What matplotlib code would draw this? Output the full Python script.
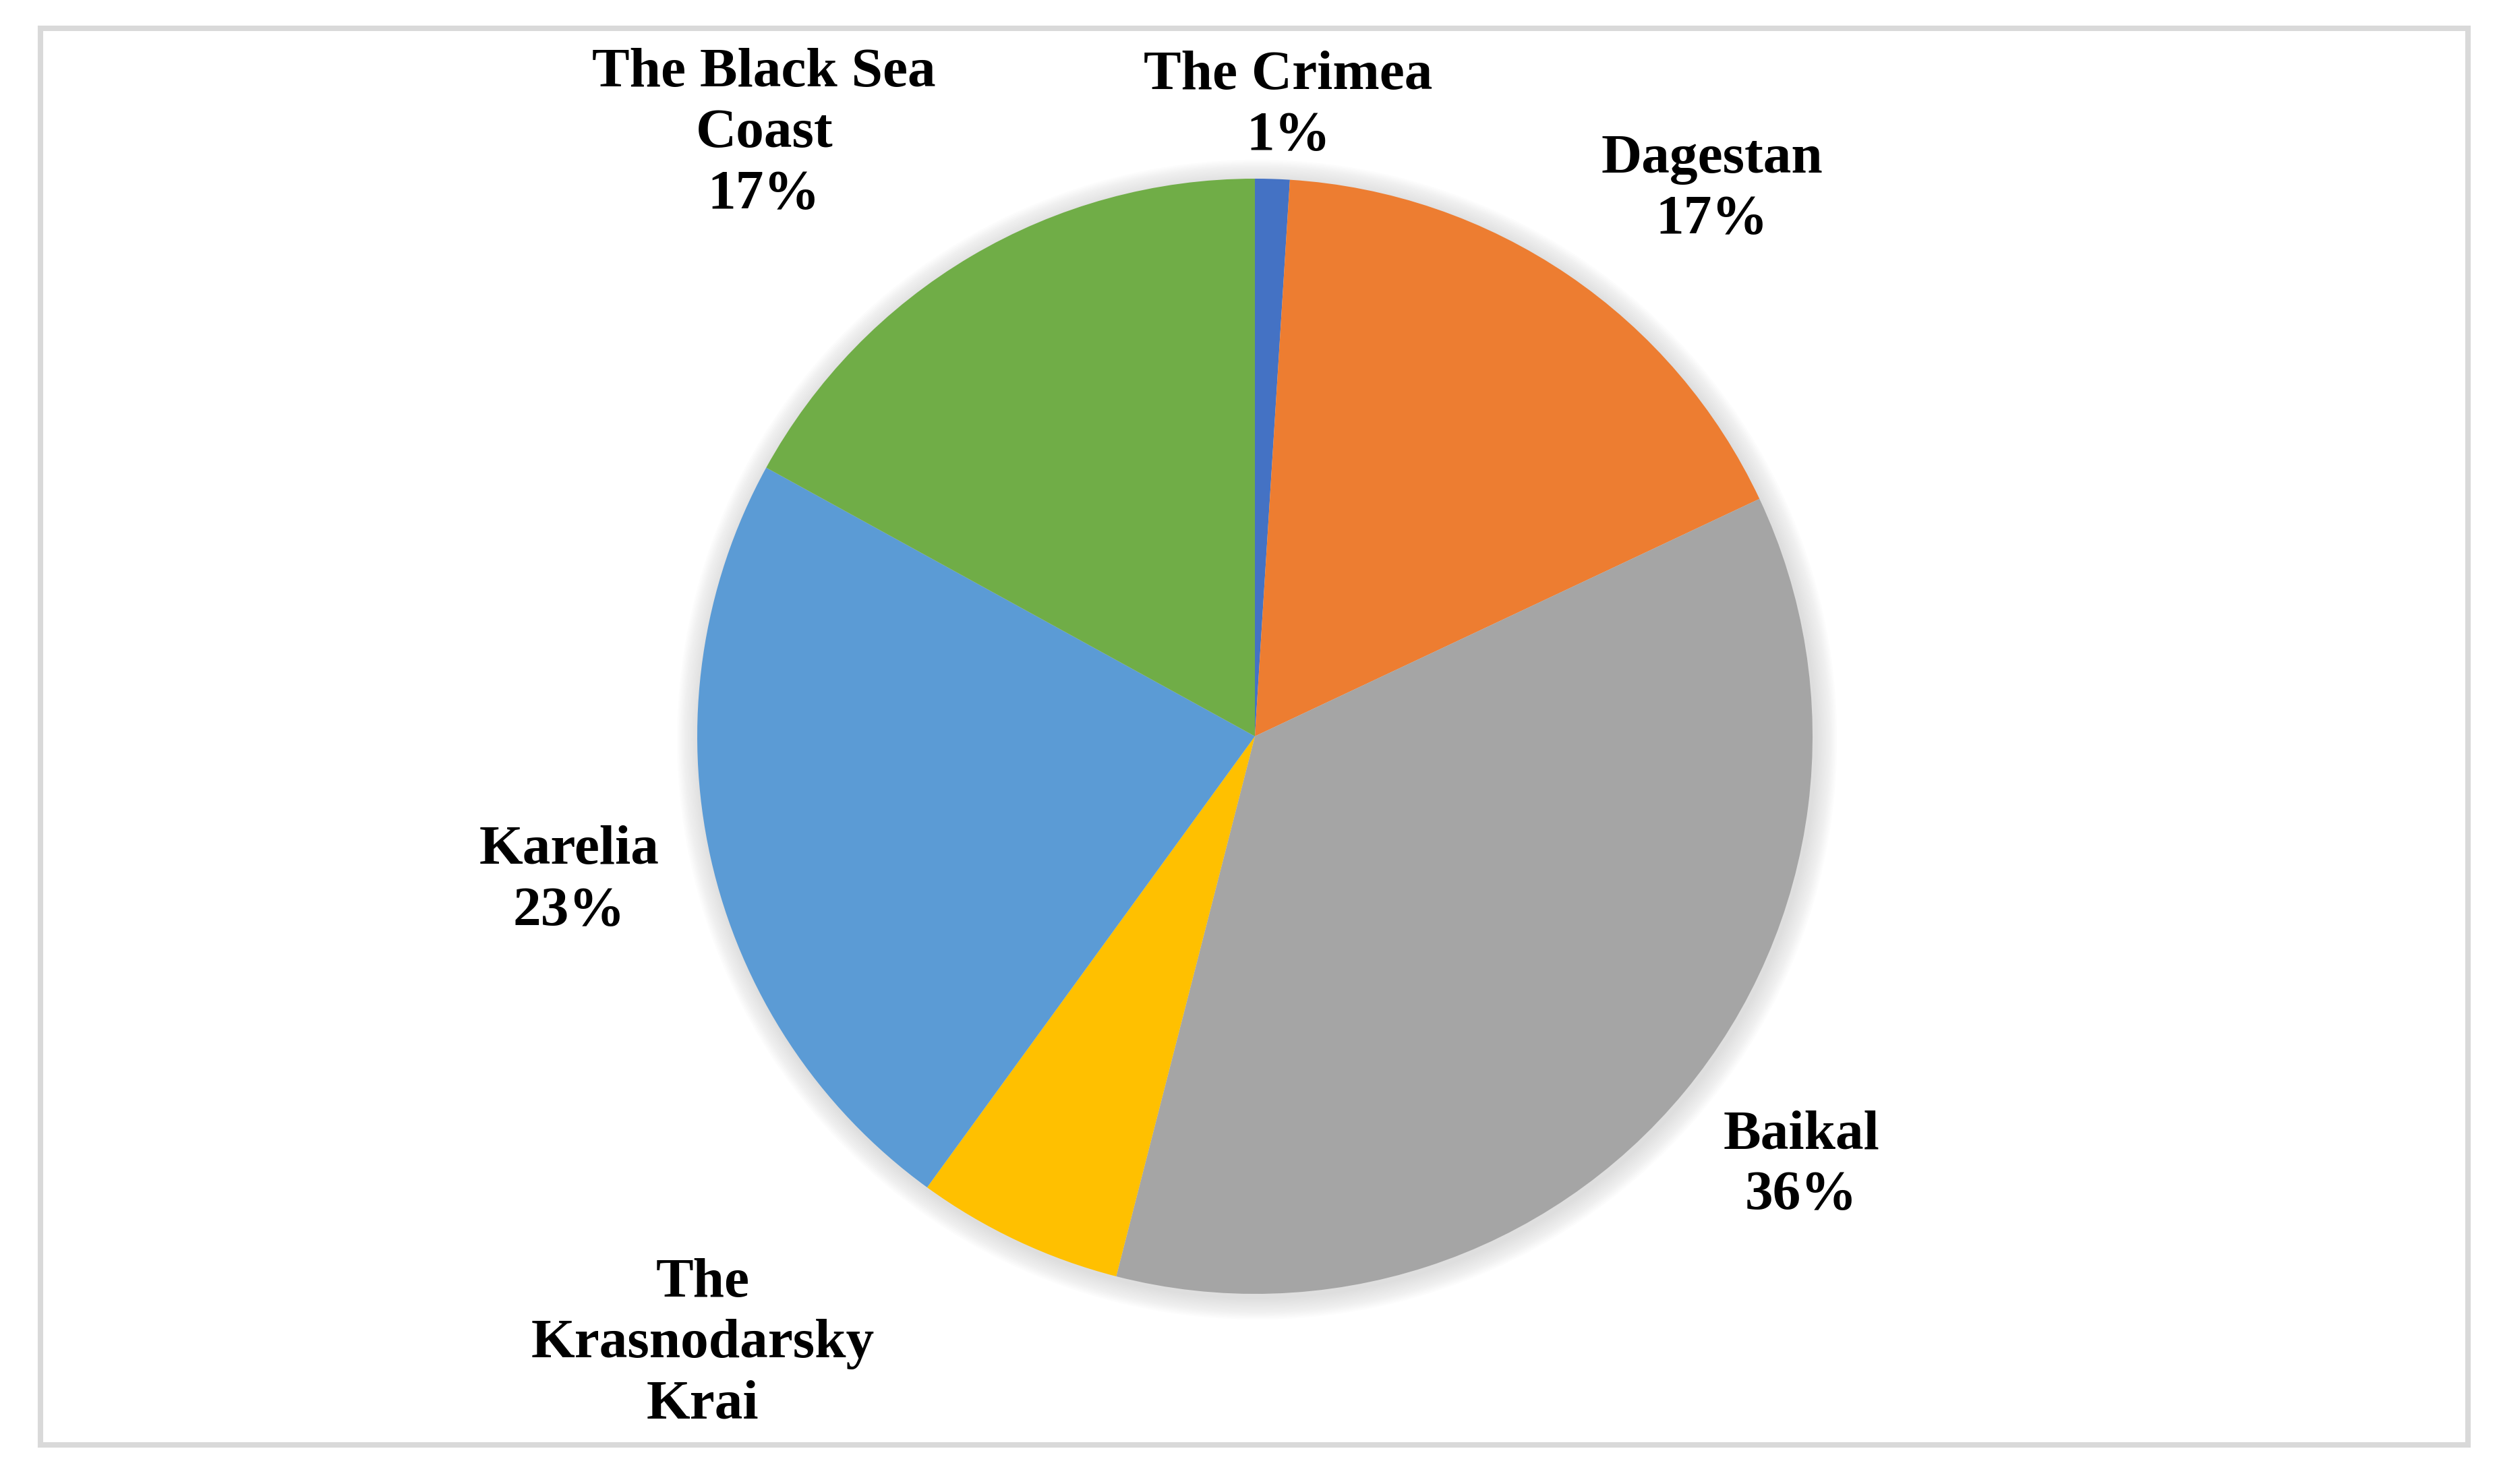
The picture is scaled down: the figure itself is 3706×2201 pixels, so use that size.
import matplotlib.pyplot as plt
from matplotlib.patches import Circle, Rectangle

# regions and their shares (%)
regions = ['The Crimea', 'Dagestan', 'Baikal', 'The\nKrasnodarsky\nKrai', 'Karelia', 'The Black Sea\nCoast']
shares = [1, 17, 36, 6, 23, 17]
show_pct = [True, True, True, False, True, True]
colors = ['#4472C4', '#ED7D31', '#A5A5A5', '#FFC000', '#5B9BD5', '#70AD47']

# label centres in pie-radius units (x right, y up), Excel "best fit" placement
label_pos = [(0.06, 1.13), (0.82, 0.98), (0.98, -0.77), (-0.99, -1.09), (-1.23, -0.26), (-0.88, 1.08)]

W, H = 3706, 2201
cx, cy, rad = 1861, 1092, 827  # pixels

fig = plt.figure(figsize=(W / 100, H / 100), dpi=100)
ax = fig.add_axes([0, 0, 1, 1])

# soft shadow behind the pie
n = 14
for i in range(n):
    r = 1.0 + 0.04 * (n - i) / n
    ax.add_patch(Circle((0.004, -0.006), r, color='#8c8c8c', alpha=0.02, lw=0, zorder=1))

wedges, _ = ax.pie(shares, colors=colors, startangle=90, counterclock=False,
                   radius=1, center=(0, 0), frame=True,
                   wedgeprops=dict(linewidth=0, zorder=2))
ax.set_xlim(-cx / rad, (W - cx) / rad)
ax.set_ylim(-(H - cy) / rad, cy / rad)
ax.set_aspect('equal')
ax.axis('off')

for name, v, show, (lx, ly) in zip(regions, shares, show_pct, label_pos):
    txt = name + ('\n%d%%' % v if show else '')
    ax.text(lx, ly, txt, ha='center', va='center', multialignment='center',
            family='Liberation Serif', fontweight='bold', fontsize=60,
            linespacing=1.27, zorder=5)

# chart area border
fig.patches.append(Rectangle((60 / W, (H - 2143) / H), 3600 / W, 2101 / H,
                             transform=fig.transFigure, fill=False,
                             edgecolor='#D9D9D9', linewidth=5.8))

fig.savefig('out.png', dpi=100, facecolor='white')
